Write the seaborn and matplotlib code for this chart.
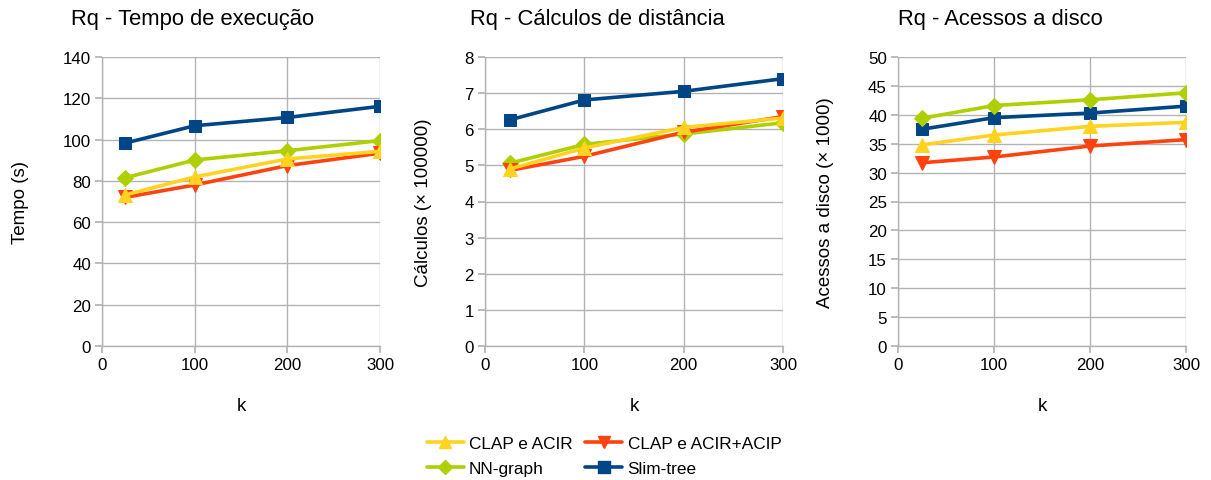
import numpy as np
import pandas as pd
import matplotlib
matplotlib.use("Agg")
import matplotlib.pyplot as plt
import seaborn as sns
from matplotlib.lines import Line2D

k_values = [25, 100, 200, 300]
series_names = ["CLAP e ACIR", "CLAP e ACIR+ACIP", "NN-graph", "Slim-tree"]

tempo_clap_acir = [73.2, 81.9, 90.6, 94.3]
tempo_clap_acip = [72.0, 78.0, 87.4, 93.4]
tempo_nn = [81.5, 90.1, 94.6, 99.5]
tempo_slim = [98.3, 106.7, 110.7, 116.1]

calc_clap_acir = [4.90, 5.48, 6.05, 6.31]
calc_clap_acip = [4.86, 5.25, 5.92, 6.35]
calc_nn = [5.06, 5.58, 5.87, 6.18]
calc_slim = [6.26, 6.81, 7.05, 7.40]

disco_clap_acir = [34.8, 36.5, 38.0, 38.7]
disco_clap_acip = [31.7, 32.7, 34.6, 35.7]
disco_nn = [39.4, 41.6, 42.6, 43.8]
disco_slim = [37.5, 39.5, 40.3, 41.5]

titles = ["Rq - Tempo de execução", "Rq - Cálculos de distância", "Rq - Acessos a disco"]
ylabels = ["Tempo (s)", "Cálculos (× 100000)", "Acessos a disco (× 1000)"]

colors = {"CLAP e ACIR": "#ffd320", "CLAP e ACIR+ACIP": "#ff420e",
          "NN-graph": "#aecf00", "Slim-tree": "#004586"}
markers = {"CLAP e ACIR": "^", "CLAP e ACIR+ACIP": "v",
           "NN-graph": "D", "Slim-tree": "s"}
msizes = {"CLAP e ACIR": 10, "CLAP e ACIR+ACIP": 10, "NN-graph": 8, "Slim-tree": 9}

def make_df(a, b, c, d):
    rows = []
    for name, vals in zip(series_names, [a, b, c, d]):
        for k, v in zip(k_values, vals):
            rows.append({"k": k, "valor": v, "serie": name})
    return pd.DataFrame(rows)

dfs = [make_df(tempo_clap_acir, tempo_clap_acip, tempo_nn, tempo_slim),
       make_df(calc_clap_acir, calc_clap_acip, calc_nn, calc_slim),
       make_df(disco_clap_acir, disco_clap_acip, disco_nn, disco_slim)]

ylims = [(0, 140, 20), (0, 8, 1), (0, 50, 5)]

sns.set_theme(style="whitegrid")
plt.rcParams["font.family"] = ["Liberation Sans", "DejaVu Sans"]
plt.rcParams["text.color"] = "black"

W, H = 1211, 481
fig = plt.figure(figsize=(W / 100, H / 100), dpi=100)

axes_px = [(102, 380), (485, 783), (898, 1186)]
top_px, bot_px = 58, 347
title_x = [71, 470, 898]
ylabel_x = [21, 423, 826]

draw_order = ["Slim-tree", "NN-graph", "CLAP e ACIR+ACIP", "CLAP e ACIR"]

for i, df in enumerate(dfs):
    l, r = axes_px[i]
    ax = fig.add_axes([l / W, 1 - bot_px / H, (r - l) / W, (bot_px - top_px) / H])
    for name in draw_order:
        sub = df[df["serie"] == name]
        sns.lineplot(data=sub, x="k", y="valor", ax=ax, color=colors[name],
                     marker=markers[name], markersize=msizes[name],
                     markeredgecolor=colors[name], linewidth=2.6, legend=False)
    lo, hi, st = ylims[i]
    ax.set_ylim(lo, hi)
    ax.set_yticks(np.arange(lo, hi + st / 2, st))
    ax.set_xlim(0, 300)
    ax.set_xticks([0, 100, 200, 300])
    ax.grid(True, color="#b3b3b3", linewidth=1)
    for s in ["top", "right"]:
        ax.spines[s].set_visible(False)
    for s in ["left", "bottom"]:
        ax.spines[s].set_color("#b3b3b3")
        ax.spines[s].set_linewidth(1)
    ax.tick_params(axis="both", which="both", length=5, color="#b3b3b3",
                   labelsize=12.2, labelcolor="black", direction="out",
                   bottom=True, left=True, pad=3)
    ax.set_xlabel("")
    ax.set_ylabel("")
    fig.text(((l + r) / 2) / W, 1 - 407 / H, "k", ha="center", va="center",
             fontsize=13.5, color="black")
    fig.text(title_x[i] / W, 1 - 19 / H, titles[i], ha="left", va="center",
             fontsize=15.8, color="black")
    fig.text(ylabel_x[i] / W, 1 - ((top_px + bot_px) / 2) / H, ylabels[i],
             ha="center", va="center", rotation=90, fontsize=13.5, color="black")

legend_order = ["CLAP e ACIR", "NN-graph", "CLAP e ACIR+ACIP", "Slim-tree"]
handles = [Line2D([0], [0], color=colors[n], marker=markers[n], markersize=msizes[n] - 1,
                  linewidth=2.6, markeredgecolor=colors[n]) for n in legend_order]
fig.legend(handles, legend_order, loc="center", bbox_to_anchor=(604 / W, 1 - 457 / H),
           ncol=2, frameon=False, fontsize=12.4, handlelength=2.15, columnspacing=0.75,
           handletextpad=0.3, labelspacing=0.62)

fig.savefig("out.png", dpi=100, facecolor="white")
